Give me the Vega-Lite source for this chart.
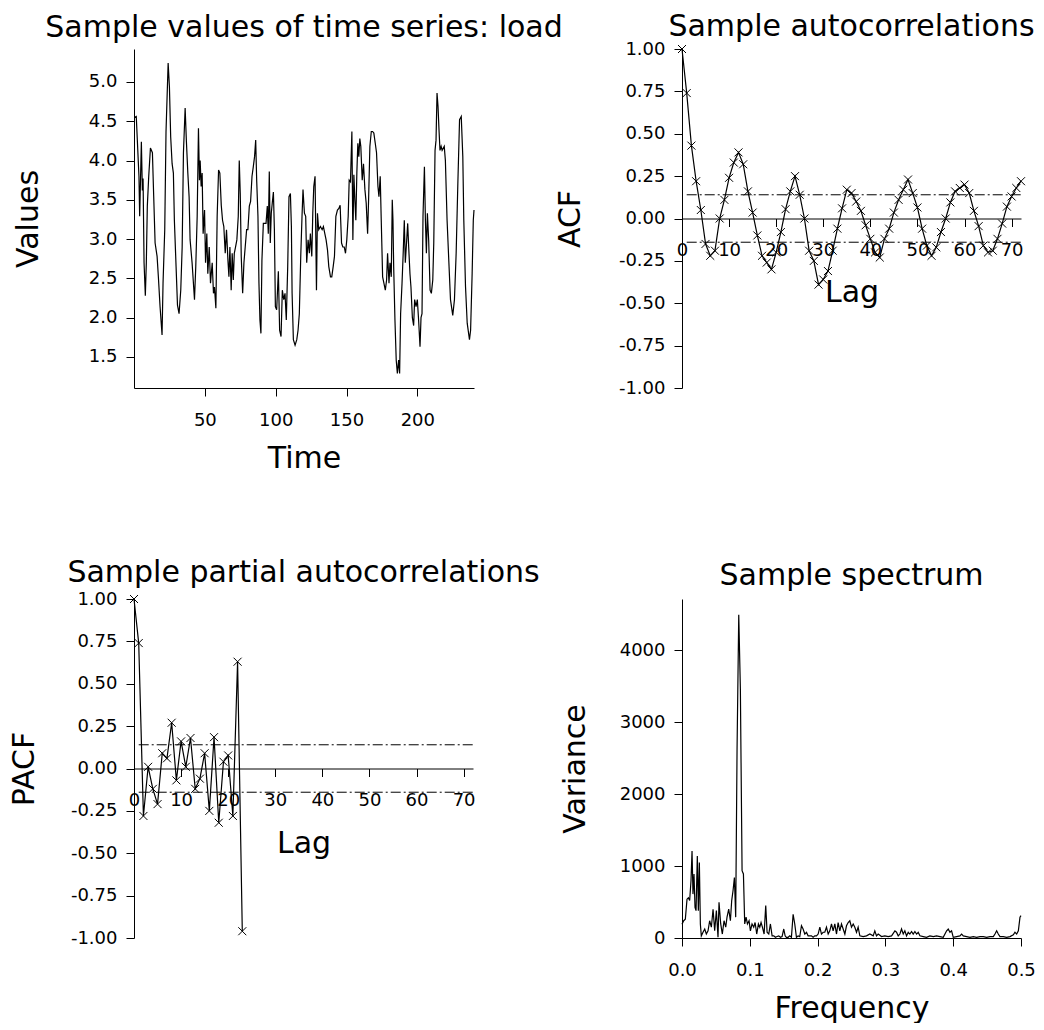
{
  "$schema": "https://vega.github.io/schema/vega-lite/v6.json",
  "background": "white",
  "padding": {"left": 9, "top": 12, "right": 0, "bottom": 0},
  "columns": 2,
  "bounds": "flush",
  "spacing": {"row": 211, "column": 208},
  "config": {
    "locale": {"number": {"decimal": ".", "thousands": ",", "grouping": [3], "currency": ["$", ""], "minus": "-"}},
    "view": {"stroke": null},
    "font": "DejaVu Sans",
    "axis": {"grid": false, "labelFlush": false, "domainColor": "black", "tickColor": "black", "labelColor": "black", "titleColor": "black", "labelFont": "DejaVu Sans", "titleFont": "DejaVu Sans", "titleFontWeight": "normal", "titleFontSize": 30, "labelFontSize": 18, "tickSize": 8, "domainWidth": 1, "tickWidth": 1},
    "title": {"font": "DejaVu Sans", "fontSize": 30, "fontWeight": "normal", "color": "black", "anchor": "middle", "frame": "group", "baseline": "alphabetic"}
  },
  "datasets": {
    "load": [
      {"time":0.5,"value":4.55},{"time":1.6,"value":4.56},{"time":3.5,"value":3.8},{"time":4.0,"value":3.29},{"time":5.2,"value":4.24},{"time":5.9,"value":3.62},{"time":6.4,"value":3.77},{"time":7.1,"value":2.7},{"time":8.0,"value":2.28},{"time":8.7,"value":2.7},{"time":9.4,"value":3.42},{"time":10.4,"value":3.8},{"time":11.6,"value":4.16},{"time":13.0,"value":4.1},{"time":13.9,"value":3.55},{"time":14.9,"value":2.95},{"time":16.3,"value":2.78},{"time":17.2,"value":2.52},{"time":18.4,"value":2.14},{"time":19.8,"value":1.78},{"time":20.5,"value":2.44},{"time":21.7,"value":3.12},{"time":22.6,"value":4.37},{"time":24.1,"value":5.24},{"time":25.0,"value":4.94},{"time":25.9,"value":4.3},{"time":26.9,"value":3.96},{"time":27.8,"value":3.84},{"time":28.5,"value":3.24},{"time":29.7,"value":2.65},{"time":30.7,"value":2.16},{"time":31.8,"value":2.05},{"time":33.0,"value":2.35},{"time":34.0,"value":2.9},{"time":34.9,"value":4.1},{"time":36.1,"value":4.67},{"time":37.0,"value":4.24},{"time":38.0,"value":3.84},{"time":38.9,"value":3.54},{"time":39.6,"value":2.99},{"time":41.0,"value":2.7},{"time":42.7,"value":2.23},{"time":43.6,"value":2.65},{"time":44.6,"value":3.29},{"time":45.5,"value":4.41},{"time":46.2,"value":3.75},{"time":46.7,"value":4.0},{"time":47.4,"value":3.67},{"time":48.1,"value":3.84},{"time":48.8,"value":3.07},{"time":49.8,"value":3.37},{"time":50.5,"value":2.7},{"time":51.4,"value":3.07},{"time":52.1,"value":2.56},{"time":53.1,"value":2.9},{"time":54.0,"value":2.44},{"time":55.2,"value":2.7},{"time":56.1,"value":2.31},{"time":56.8,"value":2.39},{"time":57.8,"value":2.12},{"time":58.7,"value":3.29},{"time":59.7,"value":3.88},{"time":60.6,"value":3.84},{"time":61.6,"value":3.43},{"time":62.5,"value":3.24},{"time":63.4,"value":3.16},{"time":64.4,"value":2.82},{"time":65.3,"value":3.12},{"time":66.3,"value":2.73},{"time":67.0,"value":2.52},{"time":67.7,"value":2.9},{"time":68.6,"value":2.35},{"time":69.3,"value":2.82},{"time":70.1,"value":2.48},{"time":70.8,"value":2.82},{"time":71.7,"value":2.9},{"time":72.6,"value":2.99},{"time":73.6,"value":3.29},{"time":74.3,"value":4.0},{"time":75.0,"value":3.58},{"time":75.7,"value":2.78},{"time":76.7,"value":2.31},{"time":77.6,"value":2.7},{"time":78.5,"value":2.9},{"time":79.5,"value":3.12},{"time":80.4,"value":3.12},{"time":81.4,"value":3.42},{"time":82.3,"value":3.48},{"time":83.3,"value":3.8},{"time":84.2,"value":3.92},{"time":85.1,"value":4.05},{"time":85.9,"value":4.26},{"time":86.6,"value":3.75},{"time":87.5,"value":3.29},{"time":88.2,"value":2.44},{"time":88.9,"value":1.97},{"time":89.6,"value":1.8},{"time":90.3,"value":2.73},{"time":91.3,"value":3.2},{"time":92.2,"value":3.2},{"time":93.2,"value":3.2},{"time":94.1,"value":3.42},{"time":94.8,"value":3.07},{"time":95.5,"value":3.86},{"time":96.2,"value":2.95},{"time":96.9,"value":3.33},{"time":97.6,"value":3.46},{"time":98.4,"value":3.6},{"time":99.1,"value":3.12},{"time":99.8,"value":2.14},{"time":100.7,"value":2.1},{"time":101.9,"value":2.59},{"time":102.8,"value":1.84},{"time":103.8,"value":1.76},{"time":104.7,"value":2.35},{"time":105.7,"value":2.23},{"time":106.6,"value":2.31},{"time":107.5,"value":1.97},{"time":108.5,"value":2.65},{"time":109.4,"value":3.54},{"time":110.4,"value":3.58},{"time":111.1,"value":3.16},{"time":111.6,"value":2.31},{"time":112.5,"value":1.72},{"time":113.7,"value":1.65},{"time":114.9,"value":1.72},{"time":115.8,"value":1.84},{"time":116.7,"value":2.05},{"time":117.7,"value":2.78},{"time":118.6,"value":3.29},{"time":119.3,"value":3.63},{"time":120.3,"value":3.33},{"time":121.2,"value":3.29},{"time":121.9,"value":2.7},{"time":122.9,"value":2.99},{"time":123.8,"value":2.82},{"time":124.5,"value":3.07},{"time":125.5,"value":2.78},{"time":126.2,"value":3.33},{"time":126.9,"value":3.67},{"time":127.8,"value":3.8},{"time":128.8,"value":2.35},{"time":129.5,"value":3.33},{"time":130.4,"value":3.12},{"time":131.6,"value":3.16},{"time":132.8,"value":3.12},{"time":133.7,"value":3.16},{"time":134.7,"value":3.07},{"time":135.6,"value":2.99},{"time":136.6,"value":2.86},{"time":137.5,"value":2.65},{"time":138.7,"value":2.52},{"time":139.6,"value":2.52},{"time":140.6,"value":2.65},{"time":141.5,"value":2.78},{"time":142.5,"value":3.29},{"time":143.6,"value":3.37},{"time":144.6,"value":3.39},{"time":145.5,"value":3.43},{"time":146.5,"value":2.95},{"time":147.4,"value":2.9},{"time":148.4,"value":2.9},{"time":149.3,"value":2.82},{"time":150.2,"value":2.99},{"time":151.2,"value":3.29},{"time":151.9,"value":3.75},{"time":152.8,"value":3.73},{"time":153.8,"value":4.37},{"time":154.5,"value":2.99},{"time":155.2,"value":3.82},{"time":155.9,"value":3.5},{"time":156.6,"value":3.24},{"time":157.3,"value":3.84},{"time":158.0,"value":4.22},{"time":158.7,"value":4.05},{"time":159.4,"value":4.28},{"time":160.1,"value":4.18},{"time":161.1,"value":3.75},{"time":162.0,"value":3.96},{"time":163.0,"value":3.63},{"time":163.9,"value":3.46},{"time":164.9,"value":3.07},{"time":165.6,"value":3.5},{"time":166.5,"value":4.18},{"time":167.5,"value":4.37},{"time":168.4,"value":4.37},{"time":169.3,"value":4.35},{"time":170.3,"value":4.22},{"time":171.2,"value":4.1},{"time":172.2,"value":3.67},{"time":172.9,"value":3.54},{"time":173.8,"value":3.8},{"time":174.5,"value":3.26},{"time":175.5,"value":2.52},{"time":176.4,"value":2.44},{"time":177.4,"value":2.35},{"time":178.3,"value":2.48},{"time":179.0,"value":2.82},{"time":180.0,"value":2.44},{"time":180.7,"value":2.7},{"time":181.6,"value":2.52},{"time":182.3,"value":3.5},{"time":182.8,"value":3.24},{"time":183.3,"value":2.65},{"time":184.2,"value":1.97},{"time":185.1,"value":1.46},{"time":185.9,"value":1.29},{"time":186.8,"value":1.46},{"time":187.5,"value":1.29},{"time":188.2,"value":2.05},{"time":189.2,"value":2.44},{"time":190.1,"value":2.86},{"time":190.8,"value":3.24},{"time":191.5,"value":2.7},{"time":192.2,"value":2.9},{"time":193.2,"value":3.2},{"time":193.9,"value":2.9},{"time":194.8,"value":2.56},{"time":195.5,"value":2.39},{"time":196.5,"value":2.0},{"time":197.4,"value":1.9},{"time":198.1,"value":2.23},{"time":199.1,"value":2.14},{"time":200.0,"value":2.23},{"time":200.9,"value":1.97},{"time":201.9,"value":1.63},{"time":202.6,"value":2.0},{"time":203.3,"value":2.05},{"time":204.0,"value":3.29},{"time":205.0,"value":3.92},{"time":205.7,"value":3.24},{"time":206.4,"value":2.82},{"time":207.1,"value":3.33},{"time":208.0,"value":2.99},{"time":209.0,"value":2.35},{"time":209.9,"value":2.31},{"time":210.9,"value":2.48},{"time":211.6,"value":2.95},{"time":212.5,"value":4.13},{"time":213.2,"value":4.26},{"time":213.9,"value":4.86},{"time":214.6,"value":4.69},{"time":215.3,"value":4.39},{"time":216.0,"value":4.13},{"time":216.8,"value":4.18},{"time":217.5,"value":4.13},{"time":219.0,"value":4.18},{"time":219.8,"value":4.0},{"time":221.0,"value":3.24},{"time":222.2,"value":2.73},{"time":223.4,"value":2.23},{"time":225.0,"value":2.03},{"time":226.2,"value":2.23},{"time":227.4,"value":2.82},{"time":228.6,"value":3.71},{"time":229.8,"value":4.52},{"time":231.0,"value":4.56},{"time":232.1,"value":4.05},{"time":232.8,"value":3.24},{"time":234.0,"value":2.4},{"time":235.2,"value":1.93},{"time":236.8,"value":1.72},{"time":237.6,"value":1.84},{"time":238.7,"value":2.57},{"time":239.5,"value":3.24},{"time":240.0,"value":3.37}
    ],
    "acf": [
      {"lag":0,"acf":1.0},{"lag":1,"acf":0.74},{"lag":2,"acf":0.43},{"lag":3,"acf":0.22},{"lag":4,"acf":0.05},{"lag":5,"acf":-0.15},{"lag":6,"acf":-0.22},{"lag":7,"acf":-0.19},{"lag":8,"acf":0.0},{"lag":9,"acf":0.11},{"lag":10,"acf":0.24},{"lag":11,"acf":0.33},{"lag":12,"acf":0.39},{"lag":13,"acf":0.32},{"lag":14,"acf":0.16},{"lag":15,"acf":0.035},{"lag":16,"acf":-0.1},{"lag":17,"acf":-0.22},{"lag":18,"acf":-0.26},{"lag":19,"acf":-0.3},{"lag":20,"acf":-0.2},{"lag":21,"acf":-0.08},{"lag":22,"acf":0.055},{"lag":23,"acf":0.16},{"lag":24,"acf":0.25},{"lag":25,"acf":0.14},{"lag":26,"acf":0.0},{"lag":27,"acf":-0.19},{"lag":28,"acf":-0.25},{"lag":29,"acf":-0.39},{"lag":30,"acf":-0.36},{"lag":31,"acf":-0.31},{"lag":32,"acf":-0.19},{"lag":33,"acf":-0.06},{"lag":34,"acf":0.06},{"lag":35,"acf":0.17},{"lag":36,"acf":0.15},{"lag":37,"acf":0.1},{"lag":38,"acf":0.045},{"lag":39,"acf":-0.04},{"lag":40,"acf":-0.12},{"lag":41,"acf":-0.2},{"lag":42,"acf":-0.23},{"lag":43,"acf":-0.12},{"lag":44,"acf":-0.06},{"lag":45,"acf":0.035},{"lag":46,"acf":0.11},{"lag":47,"acf":0.17},{"lag":48,"acf":0.23},{"lag":49,"acf":0.15},{"lag":50,"acf":0.065},{"lag":51,"acf":-0.06},{"lag":52,"acf":-0.16},{"lag":53,"acf":-0.22},{"lag":54,"acf":-0.17},{"lag":55,"acf":-0.08},{"lag":56,"acf":0.0},{"lag":57,"acf":0.095},{"lag":58,"acf":0.16},{"lag":59,"acf":0.18},{"lag":60,"acf":0.2},{"lag":61,"acf":0.15},{"lag":62,"acf":0.045},{"lag":63,"acf":-0.045},{"lag":64,"acf":-0.16},{"lag":65,"acf":-0.2},{"lag":66,"acf":-0.19},{"lag":67,"acf":-0.12},{"lag":68,"acf":-0.03},{"lag":69,"acf":0.07},{"lag":70,"acf":0.13},{"lag":71,"acf":0.18},{"lag":72,"acf":0.22}
    ],
    "pacf": [
      {"lag":0,"pacf":1.0},{"lag":1,"pacf":0.74},{"lag":2,"pacf":-0.28},{"lag":3,"pacf":0.01},{"lag":4,"pacf":-0.12},{"lag":5,"pacf":-0.21},{"lag":6,"pacf":0.09},{"lag":7,"pacf":0.06},{"lag":8,"pacf":0.27},{"lag":9,"pacf":-0.07},{"lag":10,"pacf":0.16},{"lag":11,"pacf":0.01},{"lag":12,"pacf":0.18},{"lag":13,"pacf":-0.12},{"lag":14,"pacf":-0.06},{"lag":15,"pacf":0.09},{"lag":16,"pacf":-0.25},{"lag":17,"pacf":0.185},{"lag":18,"pacf":-0.32},{"lag":19,"pacf":0.04},{"lag":20,"pacf":0.077},{"lag":21,"pacf":-0.28},{"lag":22,"pacf":0.63},{"lag":23,"pacf":-0.96}
    ],
    "band": [
      {"from":1,"to":72,"level":0.14},{"from":1,"to":72,"level":-0.14}
    ],
    "spectrum": [
      {"freq":0.0,"variance":190},{"freq":0.0025,"variance":240},{"freq":0.0049,"variance":260},{"freq":0.0074,"variance":540},{"freq":0.0094,"variance":560},{"freq":0.0113,"variance":520},{"freq":0.0133,"variance":800},{"freq":0.0148,"variance":1210},{"freq":0.0162,"variance":610},{"freq":0.0177,"variance":890},{"freq":0.0192,"variance":425},{"freq":0.0207,"variance":380},{"freq":0.0226,"variance":1140},{"freq":0.0241,"variance":380},{"freq":0.0256,"variance":1050},{"freq":0.0271,"variance":190},{"freq":0.0285,"variance":30},{"freq":0.031,"variance":80},{"freq":0.0335,"variance":125},{"freq":0.0359,"variance":55},{"freq":0.0384,"variance":100},{"freq":0.0408,"variance":240},{"freq":0.0433,"variance":150},{"freq":0.0458,"variance":400},{"freq":0.0482,"variance":100},{"freq":0.0507,"variance":380},{"freq":0.0531,"variance":10},{"freq":0.0546,"variance":495},{"freq":0.0571,"variance":195},{"freq":0.0595,"variance":55},{"freq":0.062,"variance":240},{"freq":0.0645,"variance":150},{"freq":0.0664,"variance":290},{"freq":0.0689,"variance":400},{"freq":0.0714,"variance":240},{"freq":0.0733,"variance":520},{"freq":0.0753,"variance":660},{"freq":0.0773,"variance":840},{"freq":0.0792,"variance":290},{"freq":0.0812,"variance":2620},{"freq":0.0837,"variance":4490},{"freq":0.0861,"variance":3455},{"freq":0.0886,"variance":935},{"freq":0.0906,"variance":890},{"freq":0.0925,"variance":195},{"freq":0.0945,"variance":290},{"freq":0.0965,"variance":195},{"freq":0.0989,"variance":240},{"freq":0.1009,"variance":100},{"freq":0.1033,"variance":195},{"freq":0.1058,"variance":150},{"freq":0.1078,"variance":215},{"freq":0.1102,"variance":55},{"freq":0.1127,"variance":195},{"freq":0.1147,"variance":150},{"freq":0.1166,"variance":215},{"freq":0.1186,"variance":150},{"freq":0.1211,"variance":55},{"freq":0.1235,"variance":450},{"freq":0.1255,"variance":80},{"freq":0.128,"variance":55},{"freq":0.1304,"variance":195},{"freq":0.1329,"variance":30},{"freq":0.1353,"variance":30},{"freq":0.1378,"variance":10},{"freq":0.1403,"variance":20},{"freq":0.1427,"variance":30},{"freq":0.1452,"variance":10},{"freq":0.1476,"variance":20},{"freq":0.1501,"variance":125},{"freq":0.1521,"variance":30},{"freq":0.154,"variance":10},{"freq":0.1565,"variance":10},{"freq":0.159,"variance":30},{"freq":0.1614,"variance":10},{"freq":0.1639,"variance":330},{"freq":0.1663,"variance":195},{"freq":0.1688,"variance":10},{"freq":0.1713,"variance":30},{"freq":0.1737,"variance":20},{"freq":0.1762,"variance":170},{"freq":0.1786,"variance":125},{"freq":0.1811,"variance":55},{"freq":0.1836,"variance":80},{"freq":0.186,"variance":30},{"freq":0.1885,"variance":30},{"freq":0.1909,"variance":30},{"freq":0.1934,"variance":10},{"freq":0.1959,"variance":30},{"freq":0.1983,"variance":30},{"freq":0.2008,"variance":55},{"freq":0.2033,"variance":150},{"freq":0.2057,"variance":55},{"freq":0.2082,"variance":80},{"freq":0.2106,"variance":80},{"freq":0.2131,"variance":150},{"freq":0.2156,"variance":55},{"freq":0.218,"variance":100},{"freq":0.2205,"variance":195},{"freq":0.2229,"variance":100},{"freq":0.2254,"variance":195},{"freq":0.2279,"variance":55},{"freq":0.2303,"variance":215},{"freq":0.2328,"variance":100},{"freq":0.2352,"variance":195},{"freq":0.2377,"variance":125},{"freq":0.2402,"variance":55},{"freq":0.2426,"variance":170},{"freq":0.2451,"variance":215},{"freq":0.2475,"variance":240},{"freq":0.25,"variance":150},{"freq":0.2525,"variance":195},{"freq":0.2549,"variance":150},{"freq":0.2574,"variance":80},{"freq":0.2598,"variance":150},{"freq":0.2623,"variance":30},{"freq":0.2672,"variance":20},{"freq":0.2721,"variance":30},{"freq":0.2771,"variance":55},{"freq":0.282,"variance":30},{"freq":0.2844,"variance":100},{"freq":0.2869,"variance":30},{"freq":0.2894,"variance":55},{"freq":0.2943,"variance":20},{"freq":0.2992,"variance":30},{"freq":0.3041,"variance":20},{"freq":0.3091,"variance":30},{"freq":0.314,"variance":100},{"freq":0.3164,"variance":80},{"freq":0.3189,"variance":30},{"freq":0.3214,"variance":55},{"freq":0.3238,"variance":125},{"freq":0.3263,"variance":55},{"freq":0.3287,"variance":100},{"freq":0.3312,"variance":30},{"freq":0.3337,"variance":80},{"freq":0.3361,"variance":55},{"freq":0.3386,"variance":90},{"freq":0.341,"variance":55},{"freq":0.3435,"variance":90},{"freq":0.346,"variance":55},{"freq":0.3484,"variance":80},{"freq":0.3509,"variance":30},{"freq":0.3558,"variance":20},{"freq":0.3607,"variance":10},{"freq":0.3656,"variance":30},{"freq":0.3706,"variance":20},{"freq":0.3755,"variance":30},{"freq":0.3804,"variance":20},{"freq":0.3853,"variance":10},{"freq":0.3903,"variance":100},{"freq":0.3927,"variance":125},{"freq":0.3952,"variance":80},{"freq":0.3976,"variance":100},{"freq":0.4001,"variance":10},{"freq":0.405,"variance":20},{"freq":0.4099,"variance":30},{"freq":0.4124,"variance":55},{"freq":0.4149,"variance":30},{"freq":0.4198,"variance":20},{"freq":0.4247,"variance":10},{"freq":0.4296,"variance":20},{"freq":0.4346,"variance":10},{"freq":0.4395,"variance":20},{"freq":0.4444,"variance":20},{"freq":0.4493,"variance":10},{"freq":0.4542,"variance":20},{"freq":0.4592,"variance":20},{"freq":0.4616,"variance":55},{"freq":0.4641,"variance":100},{"freq":0.4665,"variance":55},{"freq":0.469,"variance":20},{"freq":0.4739,"variance":20},{"freq":0.4788,"variance":10},{"freq":0.4838,"variance":20},{"freq":0.4887,"variance":45},{"freq":0.4911,"variance":80},{"freq":0.4936,"variance":55},{"freq":0.4961,"variance":100},{"freq":0.4985,"variance":290},{"freq":0.5,"variance":310}
    ]
  },
  "concat": [
    {
      "width": 340,
      "height": 339,
      "title": {"text": "Sample values of time series: load", "offset": 6},
      "data": {"name": "load"},
      "mark": {"type": "line", "color": "black", "strokeWidth": 1.2},
      "encoding": {
        "x": {"field": "time", "type": "quantitative", "scale": {"domain": [0, 240], "nice": false, "zero": false},
          "axis": {"values": [50, 100, 150, 200], "title": "Time", "labelPadding": 15, "titleX": 170, "titleY": 79, "titleBaseline": "alphabetic", "titleAlign": "center"}},
        "y": {"field": "value", "type": "quantitative", "scale": {"domain": [1.105, 5.42], "nice": false, "zero": false},
          "axis": {"values": [1.5, 2.0, 2.5, 3.0, 3.5, 4.0, 4.5, 5.0], "format": ".1f", "title": "Values", "labelPadding": 9, "titleAngle": 270, "titleX": -97, "titleY": 169.5, "titleBaseline": "alphabetic", "titleAlign": "center"}}
      }
    },
    {
      "width": 339,
      "height": 339,
      "title": {"text": "Sample autocorrelations", "offset": -2},
      "layer": [
        {
          "data": {"name": "band"},
          "mark": {"type": "rule", "color": "black", "strokeWidth": 1, "strokeDash": [10, 3, 2, 3]},
          "encoding": {
            "x": {"field": "from", "type": "quantitative", "scale": {"domain": [0, 72], "nice": false},
              "axis": {"values": [0, 10, 20, 30, 40, 50, 60, 70], "title": "Lag", "offset": -169.5, "labelPadding": 15, "titleX": 169.5, "titleY": 82.5, "titleBaseline": "alphabetic", "titleAlign": "center"}},
            "x2": {"field": "to"},
            "y": {"field": "level", "type": "quantitative", "scale": {"domain": [-1, 1], "nice": false},
              "axis": {"values": [-1, -0.75, -0.5, -0.25, 0, 0.25, 0.5, 0.75, 1], "format": ".2f", "title": "ACF", "labelPadding": 9, "titleAngle": 270, "titleX": -103, "titleY": 169.5, "titleBaseline": "alphabetic", "titleAlign": "center"}}
          }
        },
        {
          "data": {"name": "acf"},
          "mark": {"type": "line", "color": "black", "strokeWidth": 1.2},
          "encoding": {
            "x": {"field": "lag", "type": "quantitative", "scale": {"domain": [0, 72], "nice": false},
              "axis": {"values": [0, 10, 20, 30, 40, 50, 60, 70], "title": "Lag", "offset": -169.5, "labelPadding": 15, "titleX": 169.5, "titleY": 82.5, "titleBaseline": "alphabetic", "titleAlign": "center"}},
            "y": {"field": "acf", "type": "quantitative", "scale": {"domain": [-1, 1], "nice": false},
              "axis": {"values": [-1, -0.75, -0.5, -0.25, 0, 0.25, 0.5, 0.75, 1], "format": ".2f", "title": "ACF", "labelPadding": 9, "titleAngle": 270, "titleX": -103, "titleY": 169.5, "titleBaseline": "alphabetic", "titleAlign": "center"}}
          }
        },
        {
          "data": {"name": "acf"},
          "mark": {"type": "point", "shape": "M-1,-1L1,1M-1,1L1,-1", "size": 64, "filled": false, "color": "black", "strokeWidth": 1, "opacity": 1},
          "encoding": {
            "x": {"field": "lag", "type": "quantitative", "scale": {"domain": [0, 72], "nice": false},
              "axis": {"values": [0, 10, 20, 30, 40, 50, 60, 70], "title": "Lag", "offset": -169.5, "labelPadding": 15, "titleX": 169.5, "titleY": 82.5, "titleBaseline": "alphabetic", "titleAlign": "center"}},
            "y": {"field": "acf", "type": "quantitative", "scale": {"domain": [-1, 1], "nice": false},
              "axis": {"values": [-1, -0.75, -0.5, -0.25, 0, 0.25, 0.5, 0.75, 1], "format": ".2f", "title": "ACF", "labelPadding": 9, "titleAngle": 270, "titleX": -103, "titleY": 169.5, "titleBaseline": "alphabetic", "titleAlign": "center"}}
          }
        }
      ]
    },
    {
      "width": 339,
      "height": 339,
      "title": {"text": "Sample partial autocorrelations", "offset": 2},
      "layer": [
        {
          "data": {"name": "band"},
          "mark": {"type": "rule", "color": "black", "strokeWidth": 1, "strokeDash": [10, 3, 2, 3]},
          "encoding": {
            "x": {"field": "from", "type": "quantitative", "scale": {"domain": [0, 72], "nice": false},
              "axis": {"values": [0, 10, 20, 30, 40, 50, 60, 70], "title": "Lag", "offset": -169.5, "labelPadding": 15, "titleX": 169.5, "titleY": 84, "titleBaseline": "alphabetic", "titleAlign": "center"}},
            "x2": {"field": "to"},
            "y": {"field": "level", "type": "quantitative", "scale": {"domain": [-1, 1], "nice": false},
              "axis": {"values": [-1, -0.75, -0.5, -0.25, 0, 0.25, 0.5, 0.75, 1], "format": ".2f", "title": "PACF", "labelPadding": 9, "titleAngle": 270, "titleX": -101, "titleY": 169.5, "titleBaseline": "alphabetic", "titleAlign": "center"}}
          }
        },
        {
          "data": {"name": "pacf"},
          "mark": {"type": "line", "color": "black", "strokeWidth": 1.2},
          "encoding": {
            "x": {"field": "lag", "type": "quantitative", "scale": {"domain": [0, 72], "nice": false},
              "axis": {"values": [0, 10, 20, 30, 40, 50, 60, 70], "title": "Lag", "offset": -169.5, "labelPadding": 15, "titleX": 169.5, "titleY": 84, "titleBaseline": "alphabetic", "titleAlign": "center"}},
            "y": {"field": "pacf", "type": "quantitative", "scale": {"domain": [-1, 1], "nice": false},
              "axis": {"values": [-1, -0.75, -0.5, -0.25, 0, 0.25, 0.5, 0.75, 1], "format": ".2f", "title": "PACF", "labelPadding": 9, "titleAngle": 270, "titleX": -101, "titleY": 169.5, "titleBaseline": "alphabetic", "titleAlign": "center"}}
          }
        },
        {
          "data": {"name": "pacf"},
          "mark": {"type": "point", "shape": "M-1,-1L1,1M-1,1L1,-1", "size": 64, "filled": false, "color": "black", "strokeWidth": 1, "opacity": 1},
          "encoding": {
            "x": {"field": "lag", "type": "quantitative", "scale": {"domain": [0, 72], "nice": false},
              "axis": {"values": [0, 10, 20, 30, 40, 50, 60, 70], "title": "Lag", "offset": -169.5, "labelPadding": 15, "titleX": 169.5, "titleY": 84, "titleBaseline": "alphabetic", "titleAlign": "center"}},
            "y": {"field": "pacf", "type": "quantitative", "scale": {"domain": [-1, 1], "nice": false},
              "axis": {"values": [-1, -0.75, -0.5, -0.25, 0, 0.25, 0.5, 0.75, 1], "format": ".2f", "title": "PACF", "labelPadding": 9, "titleAngle": 270, "titleX": -101, "titleY": 169.5, "titleBaseline": "alphabetic", "titleAlign": "center"}}
          }
        }
      ]
    },
    {
      "width": 339,
      "height": 339,
      "title": {"text": "Sample spectrum", "offset": 8},
      "data": {"name": "spectrum"},
      "mark": {"type": "line", "color": "black", "strokeWidth": 1.2},
      "encoding": {
        "x": {"field": "freq", "type": "quantitative", "scale": {"domain": [0, 0.5], "nice": false},
          "axis": {"values": [0, 0.1, 0.2, 0.3, 0.4, 0.5], "format": ".1f", "title": "Frequency", "labelPadding": 15, "titleX": 169.5, "titleY": 79, "titleBaseline": "alphabetic", "titleAlign": "center"}},
        "y": {"field": "variance", "type": "quantitative", "scale": {"domain": [0, 4710], "nice": false},
          "axis": {"values": [0, 1000, 2000, 3000, 4000], "format": "d", "title": "Variance", "labelPadding": 9, "titleAngle": 270, "titleX": -98, "titleY": 169.5, "titleBaseline": "alphabetic", "titleAlign": "center"}}
      }
    }
  ]
}
